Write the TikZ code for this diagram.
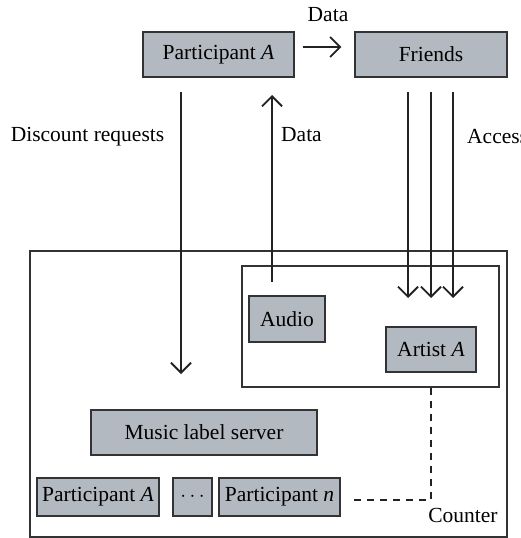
\documentclass[tikz,border=0pt]{standalone}
\usepackage{fontspec}
\setmainfont{Liberation Serif}
\usetikzlibrary{arrows.meta}
\definecolor{boxfill}{HTML}{B3B9C1}
\definecolor{edge}{HTML}{333333}
\definecolor{ink}{HTML}{222222}
\tikzset{
  unit/.style={draw=edge, line width=1.3pt, fill=boxfill, inner sep=0pt,
    font=\fontsize{21.5}{24}\selectfont},
  frame/.style={draw=edge, line width=1.1pt, inner sep=0pt},
  lbl/.style={font=\fontsize{21.5}{24}\selectfont, inner sep=0pt},
  flow/.style={draw=ink, line width=2.2pt,
    -{Straight Barb[length=10pt, width=20pt, line width=1.8pt]}},
  link/.style={draw=ink, line width=1.6pt, dash pattern=on 7pt off 6pt},
}
\begin{document}
\begin{tikzpicture}[x=1pt, y=-1pt]
\useasboundingbox (0,0) rectangle (520,538);

% enclosing frames
\node[frame, minimum width=477pt, minimum height=286pt] (outer) at (268.5,394) {};
\node[frame, minimum width=257pt, minimum height=121pt] (inner) at (370.5,326.5) {};

% top row
\node[unit, minimum width=151pt, minimum height=45pt] (pA) at (218.5,54.5) {Participant \textit{A}};
\node[unit, minimum width=152pt, minimum height=45pt] (fr) at (431,54.5) {Friends};
\node[lbl] (dtop) at (328,15) {Data};

% inside the inner frame
\node[unit, minimum width=76pt, minimum height=46pt] (audio) at (287,319) {Audio};
\node[unit, minimum width=90pt, minimum height=45pt] (art) at (431,349.5) {Artist \textit{A}};

% server and participants
\node[unit, minimum width=226pt, minimum height=45pt] (srv) at (204,432.5) {Music label server};
\node[unit, minimum width=122pt, minimum height=38pt] (p1) at (98,497) {Participant \textit{A}};
\node[unit, minimum width=39pt, minimum height=38pt] (dots) at (192.5,497) {$\cdots$};
\node[unit, minimum width=121pt, minimum height=38pt] (pn) at (279.5,497) {Participant \textit{n}};

% labels
\node[lbl] (ldisc) at (87.5,137) {Discount requests};
\node[lbl, anchor=west] (ldata) at (281,135) {Data};
\node[lbl, anchor=west] (lacc) at (467,137) {Access};
\node[lbl] (lcnt) at (463,515) {Counter};

% end points of the flows
\coordinate (discS) at (181,92);
\coordinate (discE) at (181,374);
\coordinate (upS) at (272,282);
\coordinate (upE) at (272,95);
\foreach \i/\x in {1/408, 2/431, 3/453} {
  \coordinate (accS\i) at (\x,92);
  \coordinate (accE\i) at (\x,298);
}
\coordinate (cntS) at (354,500);
\coordinate (cntC) at (431,500);

% flows
\draw[flow] ([xshift=8pt, yshift=7.5pt]pA.east) -- ([xshift=-13pt, yshift=7.5pt]fr.west);
\draw[flow] (discS) -- (discE);
\draw[flow] (upS) -- (upE);
\foreach \i in {1,2,3} \draw[flow] (accS\i) -- (accE\i);

% counter link
\draw[link] (cntS) -- (cntC) -- (inner.south -| cntC);
\end{tikzpicture}
\end{document}
